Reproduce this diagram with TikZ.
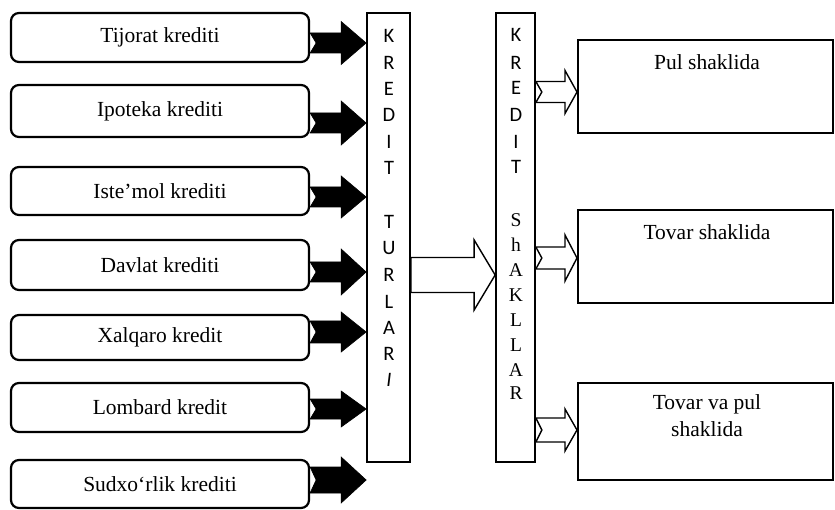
\documentclass[tikz,border=0pt]{standalone}
\usepackage{fontspec}
\setmainfont{Liberation Serif}
\newfontfamily\carlito{Carlito}
\usetikzlibrary{calc}
\newcommand{\blockarr}[8]{%
  \path[#1] let \p1=(#2), \p2=(#3), \p3=(0,#4) in
    (\x1,\y3+#5) -- (\x2-#7,\y3+#5) -- (\x2-#7,\y3+#6) -- (\x2,\y3)
    -- (\x2-#7,\y3-#6) -- (\x2-#7,\y3-#5) -- (\x1,\y3-#5) -- (\x1+#8,\y3) -- cycle;}
\tikzset{
  lbox/.style={draw, line width=2.2pt, rounded corners=8pt, minimum width=298pt,
    inner sep=0pt, font=\fontsize{21.5}{26}\selectfont},
  barbox/.style={draw, line width=1.7pt, inner sep=0pt},
  rbox/.style={draw, line width=2pt, minimum width=255pt, inner sep=0pt},
  rtext/.style={font=\fontsize{21.5}{27}\selectfont, align=center, inner sep=0pt},
  sansletter/.style={font=\carlito\fontsize{20.5}{24}\selectfont, inner sep=0pt},
  serifletter/.style={font=\fontsize{19.5}{24}\selectfont, inner sep=0pt},
  blackarrow/.style={fill=black, draw=black, line width=0.6pt, line join=miter},
  whitearrow/.style={fill=white, draw=black, line width=1.4pt, line join=miter},
}
\begin{document}
\begin{tikzpicture}[x=1pt,y=-1pt]
\useasboundingbox (0,0) rectangle (835,510);
% left boxes
\node[lbox, minimum height=49pt] (b1) at (160,37.5) {Tijorat krediti};
\node[lbox, minimum height=52pt] (b2) at (160,111) {Ipoteka krediti};
\node[lbox, minimum height=48pt] (b3) at (160,191) {Iste’mol krediti};
\node[lbox, minimum height=50pt] (b4) at (160,265) {Davlat krediti};
\node[lbox, minimum height=45pt] (b5) at (160,337.5) {Xalqaro kredit};
\node[lbox, minimum height=49pt] (b6) at (160,407.5) {Lombard kredit};
\node[lbox, minimum height=48pt] (b7) at (160,484) {Sudxo‘rlik krediti};
% bars
\node[barbox, minimum width=43pt, minimum height=449pt] (bar1) at (388.5,237.5) {};
\node[barbox, minimum width=39pt, minimum height=449pt] (bar2) at (515.5,237.5) {};
\foreach \ch/\yy [count=\i] in {K/36,R/63,E/89,D/115,I/142,T/168,T/222,U/248,R/275,L/302,A/328,R/354}
  \node[sansletter] (ta\i) at (389,\yy) {\ch};
\node[sansletter] (ta13) at (389,380) {\itshape I};
\foreach \ch/\yy [count=\i] in {K/35,R/63,E/88,D/115,I/142,T/167}
  \node[sansletter] (sa\i) at (516,\yy) {\ch};
\foreach \ch/\yy [count=\i] in {S/220,h/245,A/270,K/295,L/320,L/345,A/370,R/393}
  \node[serifletter] (sb\i) at (516,\yy) {\ch};
% right boxes
\node[rbox, minimum height=93pt] (r1) at (705.5,86.5) {};
\node[rbox, minimum height=93pt] (r2) at (705.5,256.5) {};
\node[rbox, minimum height=97pt] (r3) at (705.5,431.5) {};
\node[rtext] (r1t) at (707,62) {Pul shaklida};
\node[rtext] (r2t) at (707,232) {Tovar shaklida};
\node[rtext] (r3t) at (707,416) {Tovar va pul\\shaklida};
% black arrows
\blockarr{blackarrow}{b1.east}{bar1.west}{43}{10pt}{21.5pt}{25pt}{6pt}
\blockarr{blackarrow}{b2.east}{bar1.west}{123}{10pt}{22pt}{25pt}{6pt}
\blockarr{blackarrow}{b3.east}{bar1.west}{197}{10pt}{21pt}{25pt}{6pt}
\blockarr{blackarrow}{b4.east}{bar1.west}{272}{10pt}{23pt}{25pt}{6pt}
\blockarr{blackarrow}{b5.east}{bar1.west}{332}{11pt}{20pt}{25pt}{6pt}
\blockarr{blackarrow}{b6.east}{bar1.west}{409}{10pt}{18pt}{25pt}{6pt}
\blockarr{blackarrow}{b7.east}{bar1.west}{480}{13pt}{23pt}{25pt}{6pt}
% big white arrow
\blockarr{whitearrow}{bar1.east}{bar2.west}{275}{17.5pt}{35pt}{21pt}{0pt}
% small white arrows
\blockarr{whitearrow}{bar2.east}{r1.west}{92}{10.5pt}{21.5pt}{12pt}{6pt}
\blockarr{whitearrow}{bar2.east}{r2.west}{258}{11pt}{23pt}{12pt}{6pt}
\blockarr{whitearrow}{bar2.east}{r3.west}{430}{12pt}{21pt}{12pt}{6pt}
\end{tikzpicture}
\end{document}
